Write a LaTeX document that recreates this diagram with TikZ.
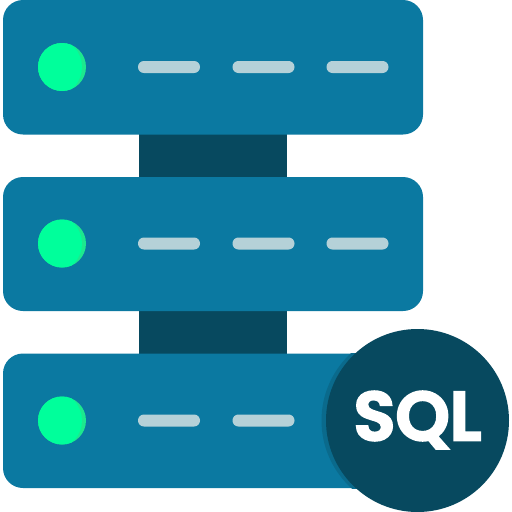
\documentclass[tikz,border=0pt]{standalone}
\usepackage{fontspec}
\newfontfamily\sqlfont[FakeBold=3.2]{Poppins SemiBold}
\definecolor{barblue}{HTML}{0B79A1}
\definecolor{deep}{HTML}{07495F}
\definecolor{badgeshadow}{HTML}{0A6A8C}
\definecolor{dash}{HTML}{B5D1D8}
\definecolor{ledbase}{HTML}{1DE88E}
\definecolor{ledtop}{HTML}{00FF9B}
\tikzset{
  barbox/.style={fill=barblue,rounded corners=20pt},
  pillar/.style={fill=deep},
  dashbar/.style={fill=dash,rounded corners=5.9pt},
  sqlbadge/.style={circle,fill=deep,minimum size=183pt,inner sep=0pt,outer sep=0pt},
  sqltext/.style={text=white,font=\sqlfont\fontsize{69}{69}\selectfont,inner sep=0pt},
}
\newcommand{\lednode}[1]{%
  \fill[ledbase] (62,#1) circle (24);
  \begin{scope}
    \clip (62,#1) circle (24);
    \fill[ledtop] (57.5,#1) ellipse (24.5 and 27);
  \end{scope}}
\newcommand{\dashat}[2]{\fill[dashbar] (#1,#2-6) rectangle (#1+62,#2+6);}
\begin{document}
\begin{tikzpicture}[x=1pt,y=-1pt]
\useasboundingbox (0,0) rectangle (512,512);
\fill[white] (0,0) rectangle (512,512);
\fill[pillar] (139,130) rectangle (287,180);
\fill[pillar] (139,306) rectangle (287,356);
\fill[barbox] (3,0) rectangle (423,134.5);
\fill[barbox] (3,177) rectangle (423,311);
\fill[barbox] (3,353.5) rectangle (423,488);
\lednode{67}
\lednode{243.5}
\lednode{420.5}
\dashat{138}{67}\dashat{232.5}{67}\dashat{326.5}{67}
\dashat{138}{243.5}\dashat{232.5}{243.5}\dashat{326.5}{243.5}
\dashat{138}{420.5}\dashat{232.5}{420.5}
\begin{scope}
  \clip (3,353.5) rectangle (423,488);
  \fill[badgeshadow] (413,420.5) circle (91.5);
\end{scope}
\node[sqlbadge] (badge) at (417.5,420.5) {};
\node[sqltext] (sql) at (417.5,420) {SQL};
\end{tikzpicture}
\end{document}
